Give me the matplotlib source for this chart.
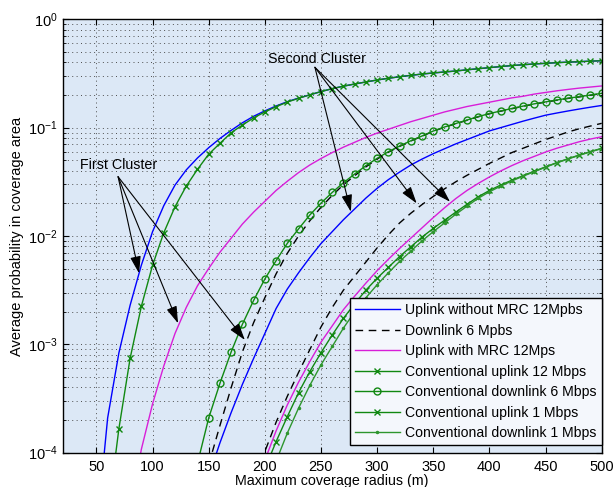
import numpy as np
import matplotlib
matplotlib.use("Agg")
import matplotlib.pyplot as plt

plt.rcParams["font.family"] = ["Liberation Sans", "DejaVu Sans"]
plt.rcParams["mathtext.fontset"] = "custom"
plt.rcParams["mathtext.rm"] = "Liberation Sans"
plt.rcParams["mathtext.it"] = "Liberation Sans:italic"
plt.rcParams["mathtext.bf"] = "Liberation Sans:bold"

# radius samples (m), every 10 m
radius = np.arange(50, 510, 10)

# log10 of the average probability; each series starts
# at its first sample just below the axis and runs to r = 500
blue_a = [-4.75, -3.68, -3.08, -2.64, -2.27, -1.96, -1.72, -1.53, -1.39, -1.28,
          -1.185, -1.10, -1.025, -0.955, -0.895, -0.845, -0.800, -0.760, -0.727, -0.697,
          -0.667, -0.640, -0.617, -0.597, -0.578, -0.560, -0.544, -0.530, -0.517, -0.505,
          -0.495, -0.486, -0.477, -0.466, -0.456, -0.446, -0.436, -0.427, -0.419, -0.412,
          -0.406, -0.400, -0.395, -0.391, -0.386, -0.382]
dash_a = [-4.11, -3.75, -3.40, -3.07, -2.80, -2.57, -2.35, -2.16, -2.00, -1.86,
          -1.735, -1.625, -1.527, -1.443, -1.362, -1.290, -1.227, -1.173, -1.123, -1.079,
          -1.033, -0.996, -0.964, -0.932, -0.900, -0.872, -0.848, -0.825, -0.803, -0.782,
          -0.764, -0.747, -0.730, -0.716, -0.701, -0.685]
mag_a = [-4.55, -3.97, -3.55, -3.20, -2.90, -2.66, -2.46, -2.30, -2.15, -2.02,
         -1.89, -1.78, -1.68, -1.58, -1.495, -1.415, -1.345, -1.285, -1.23, -1.18,
         -1.135, -1.09, -1.05, -1.015, -0.98, -0.945, -0.915, -0.885, -0.855, -0.83,
         -0.805, -0.785, -0.765, -0.745, -0.725, -0.71, -0.69, -0.675, -0.66, -0.647,
         -0.635, -0.625, -0.615]
conv_up12 = [-4.6, -3.78, -3.13, -2.65, -2.27, -1.97, -1.73, -1.54, -1.385, -1.245,
             -1.145, -1.047, -0.976, -0.910, -0.855, -0.807, -0.764, -0.729, -0.697, -0.667,
             -0.640, -0.617, -0.597, -0.578, -0.560, -0.544, -0.530, -0.517, -0.505, -0.495,
             -0.486, -0.477, -0.466, -0.456, -0.446, -0.436, -0.427, -0.419, -0.412, -0.406,
             -0.400, -0.395, -0.391, -0.386, -0.382]
conv_dn6 = [-4.1, -3.68, -3.36, -3.07, -2.815, -2.595, -2.397, -2.228, -2.068, -1.935,
            -1.807, -1.697, -1.598, -1.508, -1.428, -1.351, -1.283, -1.222, -1.170, -1.121,
            -1.077, -1.031, -0.994, -0.962, -0.930, -0.898, -0.870, -0.846, -0.823, -0.801,
            -0.780, -0.762, -0.745, -0.728, -0.714, -0.699, -0.683]
blue_b = [-4.22, -3.91, -3.63, -3.37, -3.13, -2.90, -2.67, -2.49, -2.34, -2.20,
          -2.07, -1.96, -1.85, -1.75, -1.65, -1.56, -1.48, -1.41, -1.345, -1.29,
          -1.24, -1.195, -1.15, -1.11, -1.07, -1.03, -1.00, -0.97, -0.94, -0.912,
          -0.885, -0.865, -0.846, -0.828, -0.811, -0.795]
dash_b = [-4.32, -3.99, -3.72, -3.48, -3.26, -3.05, -2.84, -2.66, -2.50, -2.37,
          -2.24, -2.11, -1.99, -1.88, -1.79, -1.71, -1.635, -1.565, -1.50, -1.44,
          -1.385, -1.33, -1.28, -1.23, -1.19, -1.15, -1.11, -1.075, -1.04, -1.01,
          -0.985, -0.96]
mag_b = [-4.07, -3.80, -3.56, -3.35, -3.16, -2.98, -2.83, -2.68, -2.555, -2.435,
         -2.32, -2.215, -2.115, -2.02, -1.925, -1.83, -1.74, -1.655, -1.58, -1.515,
         -1.455, -1.40, -1.35, -1.305, -1.265, -1.225, -1.19, -1.16, -1.13, -1.105,
         -1.084]
conv_up1 = [-4.15, -3.899, -3.668, -3.447, -3.253, -3.078, -2.914, -2.76, -2.625, -2.50,
            -2.39, -2.29, -2.19, -2.10, -2.01, -1.93, -1.855, -1.78, -1.708, -1.638,
            -1.58, -1.53, -1.485, -1.443, -1.402, -1.362, -1.323, -1.287, -1.253, -1.221,
            -1.191]
conv_dn1 = [-4.45, -4.08, -3.82, -3.59, -3.38, -3.19, -3.02, -2.85, -2.70, -2.57,
            -2.45, -2.34, -2.235, -2.14, -2.045, -1.96, -1.88, -1.80, -1.725, -1.652,
            -1.592, -1.540, -1.492, -1.448, -1.406, -1.365, -1.325, -1.289, -1.255, -1.223,
            -1.193]

labels = ["Uplink without MRC 12Mpbs", "Downlink 6 Mpbs", "Uplink with MRC 12Mps",
          "Conventional uplink 12 Mbps", "Conventional downlink 6 Mbps",
          "Conventional uplink 1 Mbps", "Conventional downlink 1 Mbps"]

# annotation anchors: (radius, log10 p)
first_txt = (35.1, -1.345)
first_from = (69.3, -1.453)
first_tips = [(88.0, -2.345), (122.7, -2.806), (182.2, -2.96)]
second_txt = (202.7, -0.366)
second_from = (244.6, -0.443)
second_tips = [(276.6, -1.776), (335.2, -1.699), (364.9, -1.684)]

GREEN = "#118811"
BLUE = "#0000ff"
MAG = "#d81ed8"


def curve(vals):
    r = radius[len(radius) - len(vals):]
    return r, 10.0 ** np.array(vals)


fig = plt.figure(figsize=(6.15, 4.87), dpi=100)
ax = fig.add_axes([0.102, 0.0706, 0.8764, 0.8897])
ax.set_facecolor("#dce8f6")

lw = 1.0
dash = (0, (5.5, 4))
h = []
h += ax.plot(*curve(blue_a), color=BLUE, lw=lw, label=labels[0])
h += ax.plot(*curve(dash_a), color="k", lw=lw, ls=dash, label=labels[1])
h += ax.plot(*curve(mag_a), color=MAG, lw=lw, label=labels[2])
ax.plot(*curve(blue_b), color=BLUE, lw=lw)
ax.plot(*curve(dash_b), color="k", lw=lw, ls=dash)
ax.plot(*curve(mag_b), color=MAG, lw=lw)
h += ax.plot(*curve(conv_up12), color=GREEN, lw=lw, marker="x", ms=5, mew=1.0,
             label=labels[3])
h += ax.plot(*curve(conv_dn6), color=GREEN, lw=lw, marker="o", ms=5, mew=1.0,
             mfc="none", label=labels[4])
h += ax.plot(*curve(conv_up1), color=GREEN, lw=lw, marker="x", ms=5, mew=1.0,
             label=labels[5])
h += ax.plot(*curve(conv_dn1), color="#2e962e", lw=lw, marker=".", ms=3,
             label=labels[6])

ax.set_yscale("log")
ax.set_xlim(20, 500)
ax.set_ylim(1e-4, 1)
ax.set_xticks(np.arange(50, 501, 50))
ax.set_yticks([1e-4, 1e-3, 1e-2, 1e-1, 1])
ax.set_yticklabels([r"$10^{-4}$", r"$10^{-3}$", r"$10^{-2}$", r"$10^{-1}$", r"$10^{0}$"])

grid_ls = (0, (1, 3.5))
ax.grid(True, which="major", ls=grid_ls, color="0.3", lw=0.7)
ax.grid(True, which="minor", axis="y", ls=grid_ls, color="0.3", lw=0.7)
ax.tick_params(which="both", direction="in", top=True, right=True, labelsize=10.5)
ax.tick_params(which="major", length=4.5, width=0.8)
ax.tick_params(which="minor", length=2.5, width=0.6)
ax.tick_params(axis="x", pad=5)
for s in ax.spines.values():
    s.set_linewidth(1.0)

ax.set_xlabel("Maximum coverage radius (m)", fontsize=10.3)
ax.xaxis.set_label_coords(0.5, -0.049)
ax.set_ylabel("Average probability in coverage area", fontsize=10.5)
ax.yaxis.set_label_coords(-0.072, 0.5)

# cluster annotations
ax.text(first_txt[0], 10 ** first_txt[1], "First Cluster", fontsize=10.3,
        ha="left", va="center")
ax.text(second_txt[0], 10 ** second_txt[1], "Second Cluster", fontsize=10.3,
        ha="left", va="center")
for src, tips in [(first_from, first_tips), (second_from, second_tips)]:
    for tx, ty in tips:
        ax.annotate("", xy=(tx, 10 ** ty), xytext=(src[0], 10 ** src[1]),
                    arrowprops=dict(arrowstyle="-|>,head_length=0.8,head_width=0.25",
                                    color="k", lw=0.8, mutation_scale=13,
                                    shrinkA=0, shrinkB=0))

leg = ax.legend(handles=h, loc="lower right", bbox_to_anchor=(1.0, 0.0175),
                borderaxespad=0, fontsize=10.1, numpoints=1, handlelength=3.2,
                labelspacing=0.46, handletextpad=0.4, borderpad=0.35,
                fancybox=False, framealpha=1, facecolor="#f4f7fc", edgecolor="k")
leg.get_frame().set_linewidth(1.0)

fig.savefig("out.png", dpi=100)
